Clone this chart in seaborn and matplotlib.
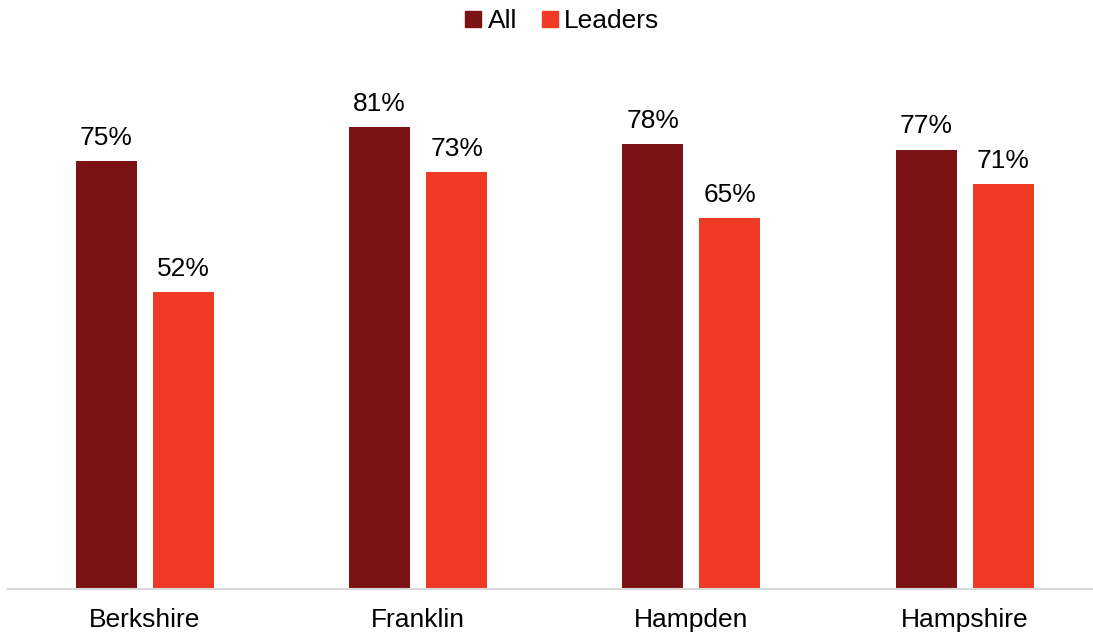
import matplotlib
matplotlib.use("Agg")
import matplotlib.pyplot as plt
import seaborn as sns
import pandas as pd
from matplotlib.lines import Line2D

counties = ["Berkshire", "Franklin", "Hampden", "Hampshire"]
all_vals = [0.75, 0.81, 0.78, 0.77]
leader_vals = [0.52, 0.73, 0.65, 0.71]
series = ["All", "Leaders"]
colors = ["#7B1315", "#EF3B26"]

df = pd.DataFrame({
    "county": counties * 2,
    "value": all_vals + leader_vals,
    "series": [series[0]] * 4 + [series[1]] * 4,
})

sns.set_style("white")
plt.rcParams['font.family'] = ['Liberation Sans', 'DejaVu Sans']

fig = plt.figure(figsize=(10.93, 6.38), dpi=100)
ax = fig.add_axes([8.4 / 1093, 49 / 638, 1092.8 / 1093, 513.6 / 638])

sns.barplot(data=df, x="county", y="value", hue="series", palette=colors,
            width=0.564, gap=0.208, ax=ax, legend=False, saturation=1, errorbar=None,
            linewidth=0)

for cont in ax.containers:
    ax.bar_label(cont, labels=[f"{v*100:.0f}%" for v in cont.datavalues],
                 padding=8, fontsize=19, color="black")

ax.set_xlim(-0.5, 3.5)
ax.set_ylim(0, 0.9)
ax.set_xlabel("")
ax.set_ylabel("")
ax.set_yticks([])
ax.tick_params(axis="x", length=0, labelsize=19, pad=14, colors="black")
for s in ["top", "right", "left"]:
    ax.spines[s].set_visible(False)
ax.spines["bottom"].set_color("#D9D9D9")
ax.spines["bottom"].set_linewidth(1.5)

handles = [Line2D([0], [0], marker="s", linestyle="", markersize=11.5,
                  markerfacecolor=c, markeredgecolor=c) for c in colors]
fig.legend(handles, series, loc="center", bbox_to_anchor=(561 / 1093, 1 - 21 / 638),
           ncol=2, frameon=False, fontsize=19, handletextpad=0.15, columnspacing=0.85,
           handlelength=0.8, labelcolor="black")

fig.savefig("out.png", dpi=100)
